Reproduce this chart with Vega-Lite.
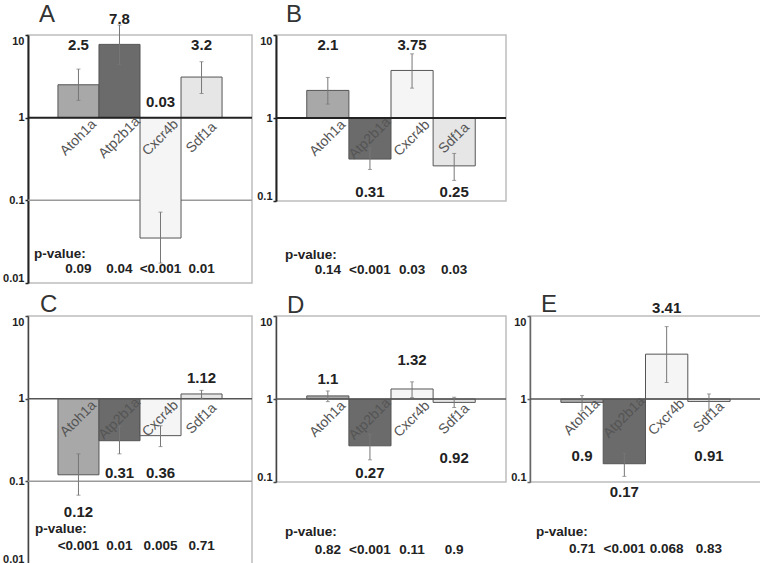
{
  "$schema": "https://vega.github.io/schema/vega-lite/v6.json",
  "padding": {"left": 1, "top": 2, "right": 0, "bottom": 0},
  "background": "white",
  "datasets": {
    "d": [
      {"panel": "A", "gene": "Atoh1a", "fc": 2.5, "lo": 1.62, "hi": 3.87, "label": "2.5", "la": 7.6, "p": "0.09"},
      {"panel": "A", "gene": "Atp2b1a", "fc": 7.7, "lo": 4.37, "hi": 13.2, "label": "7.8", "la": 15.7, "p": "0.04"},
      {"panel": "A", "gene": "Cxcr4b", "fc": 0.035, "lo": 0.0174, "hi": 0.072, "label": "0.03", "la": 1.54, "p": "<0.001"},
      {"panel": "A", "gene": "Sdf1a", "fc": 3.1, "lo": 1.96, "hi": 4.75, "label": "3.2", "la": 7.6, "p": "0.01"},
      {"panel": "B", "gene": "Atoh1a", "fc": 2.15, "lo": 1.47, "hi": 3.08, "label": "2.1", "la": 7.6, "p": "0.14"},
      {"panel": "B", "gene": "Atp2b1a", "fc": 0.32, "lo": 0.24, "hi": 0.436, "label": "0.31", "la": 0.128, "p": "<0.001"},
      {"panel": "B", "gene": "Cxcr4b", "fc": 3.74, "lo": 2.29, "hi": 5.93, "label": "3.75", "la": 7.6, "p": "0.03"},
      {"panel": "B", "gene": "Sdf1a", "fc": 0.265, "lo": 0.177, "hi": 0.374, "label": "0.25", "la": 0.128, "p": "0.03"},
      {"panel": "C", "gene": "Atoh1a", "fc": 0.12, "lo": 0.068, "hi": 0.215, "label": "0.12", "la": 0.042, "p": "<0.001"},
      {"panel": "C", "gene": "Atp2b1a", "fc": 0.31, "lo": 0.215, "hi": 0.46, "label": "0.31", "la": 0.125, "p": "0.01"},
      {"panel": "C", "gene": "Cxcr4b", "fc": 0.357, "lo": 0.263, "hi": 0.47, "label": "0.36", "la": 0.125, "p": "0.005"},
      {"panel": "C", "gene": "Sdf1a", "fc": 1.14, "lo": 1.01, "hi": 1.26, "label": "1.12", "la": 1.77, "p": "0.71"},
      {"panel": "D", "gene": "Atoh1a", "fc": 1.09, "lo": 0.93, "hi": 1.25, "label": "1.1", "la": 1.75, "p": "0.82"},
      {"panel": "D", "gene": "Atp2b1a", "fc": 0.273, "lo": 0.185, "hi": 0.376, "label": "0.27", "la": 0.127, "p": "<0.001"},
      {"panel": "D", "gene": "Cxcr4b", "fc": 1.32, "lo": 1.04, "hi": 1.61, "label": "1.32", "la": 2.96, "p": "0.11"},
      {"panel": "D", "gene": "Sdf1a", "fc": 0.91, "lo": 0.79, "hi": 1.05, "label": "0.92", "la": 0.192, "p": "0.9"},
      {"panel": "E", "gene": "Atoh1a", "fc": 0.91, "lo": 0.72, "hi": 1.1, "label": "0.9", "la": 0.203, "p": "0.71"},
      {"panel": "E", "gene": "Atp2b1a", "fc": 0.166, "lo": 0.117, "hi": 0.222, "label": "0.17", "la": 0.075, "p": "<0.001"},
      {"panel": "E", "gene": "Cxcr4b", "fc": 3.47, "lo": 1.58, "hi": 7.45, "label": "3.41", "la": 12.5, "p": "0.068"},
      {"panel": "E", "gene": "Sdf1a", "fc": 0.935, "lo": 0.72, "hi": 1.15, "label": "0.91", "la": 0.203, "p": "0.83"}
    ]
  },
  "columns": 3,
  "spacing": {"row": 33, "column": 24},
  "bounds": "flush",
  "concat": [
    {
      "width": 224, "height": 248,
      "data": {"name": "d"},
      "transform": [{"filter": "datum.panel == 'A'"}],
      "layer": [
        {"transform": [{"filter": "datum.gene == 'Atoh1a'"}], "mark": {"type": "rule", "color": "#9a9a9a", "strokeWidth": 1.5}, "encoding": {"y": {"datum": 0.1, "type": "quantitative", "title": null, "scale": {"type": "log", "domain": [0.01, 10]}}}},
        {"mark": {"type": "rect", "stroke": "#555555", "strokeWidth": 1}, "encoding": {"x": {"field": "gene", "type": "nominal", "scale": {"domain": ["Atoh1a", "Atp2b1a", "Cxcr4b", "Sdf1a"], "paddingInner": 0, "paddingOuter": 0.73}, "axis": null}, "y": {"field": "fc", "type": "quantitative", "title": null, "scale": {"type": "log", "domain": [0.01, 10]}, "axis": {"values": [0.01, 0.1, 1, 10], "format": "~g", "title": null}}, "y2": {"datum": 1}, "fill": {"field": "gene", "type": "nominal", "scale": {"domain": ["Atoh1a", "Atp2b1a", "Cxcr4b", "Sdf1a"], "range": ["#a8a8a8", "#6b6b6b", "#f5f5f5", "#e6e6e6"]}, "legend": null}}},
        {"transform": [{"filter": "datum.gene == 'Atoh1a'"}], "mark": {"type": "rule", "color": "#222222", "strokeWidth": 2}, "encoding": {"y": {"datum": 1, "type": "quantitative", "title": null, "scale": {"type": "log", "domain": [0.01, 10]}}}},
        {"mark": {"type": "rule", "color": "#777777", "strokeWidth": 1}, "encoding": {"x": {"field": "gene", "type": "nominal", "scale": {"domain": ["Atoh1a", "Atp2b1a", "Cxcr4b", "Sdf1a"], "paddingInner": 0, "paddingOuter": 0.73}, "axis": null}, "y": {"field": "lo", "type": "quantitative", "title": null, "scale": {"type": "log", "domain": [0.01, 10]}}, "y2": {"field": "hi"}}},
        {"mark": {"type": "tick", "color": "#777777", "size": 4, "thickness": 1}, "encoding": {"x": {"field": "gene", "type": "nominal", "scale": {"domain": ["Atoh1a", "Atp2b1a", "Cxcr4b", "Sdf1a"], "paddingInner": 0, "paddingOuter": 0.73}, "axis": null}, "y": {"field": "hi", "type": "quantitative", "title": null, "scale": {"type": "log", "domain": [0.01, 10]}}}},
        {"mark": {"type": "tick", "color": "#777777", "size": 4, "thickness": 1}, "encoding": {"x": {"field": "gene", "type": "nominal", "scale": {"domain": ["Atoh1a", "Atp2b1a", "Cxcr4b", "Sdf1a"], "paddingInner": 0, "paddingOuter": 0.73}, "axis": null}, "y": {"field": "lo", "type": "quantitative", "title": null, "scale": {"type": "log", "domain": [0.01, 10]}}}},
        {"mark": {"type": "text", "angle": 315, "fontSize": 14, "font": "Liberation Sans", "color": "#555555", "align": "center", "baseline": "middle"}, "encoding": {"x": {"field": "gene", "type": "nominal", "scale": {"domain": ["Atoh1a", "Atp2b1a", "Cxcr4b", "Sdf1a"], "paddingInner": 0, "paddingOuter": 0.73}, "axis": null}, "y": {"datum": 0.57, "type": "quantitative", "title": null, "scale": {"type": "log", "domain": [0.01, 10]}}, "text": {"field": "gene"}}},
        {"mark": {"type": "text", "fontSize": 15, "fontWeight": "bold", "font": "Liberation Sans", "color": "#222222", "baseline": "middle"}, "encoding": {"x": {"field": "gene", "type": "nominal", "scale": {"domain": ["Atoh1a", "Atp2b1a", "Cxcr4b", "Sdf1a"], "paddingInner": 0, "paddingOuter": 0.73}, "axis": null}, "y": {"field": "la", "type": "quantitative", "title": null, "scale": {"type": "log", "domain": [0.01, 10]}}, "text": {"field": "label"}}},
        {"mark": {"type": "text", "fontSize": 13.5, "fontWeight": "bold", "font": "Liberation Sans", "color": "#222222", "baseline": "middle"}, "encoding": {"x": {"field": "gene", "type": "nominal", "scale": {"domain": ["Atoh1a", "Atp2b1a", "Cxcr4b", "Sdf1a"], "paddingInner": 0, "paddingOuter": 0.73}, "axis": null}, "y": {"datum": 0.0146, "type": "quantitative", "title": null, "scale": {"type": "log", "domain": [0.01, 10]}}, "text": {"field": "p"}}},
        {"transform": [{"filter": "datum.gene == 'Atoh1a'"}], "mark": {"type": "text", "text": "p-value:", "align": "left", "dx": -44.5, "fontSize": 13.5, "fontWeight": "bold", "font": "Liberation Sans", "color": "#222222", "baseline": "middle"}, "encoding": {"x": {"field": "gene", "type": "nominal", "scale": {"domain": ["Atoh1a", "Atp2b1a", "Cxcr4b", "Sdf1a"], "paddingInner": 0, "paddingOuter": 0.73}, "axis": null}, "y": {"datum": 0.0225, "type": "quantitative", "title": null, "scale": {"type": "log", "domain": [0.01, 10]}}}},
        {"transform": [{"filter": "datum.gene == 'Atoh1a'"}], "mark": {"type": "text", "text": "A", "align": "left", "dx": -39.5, "fontSize": 24, "font": "Liberation Sans", "color": "#333333", "baseline": "alphabetic"}, "encoding": {"x": {"field": "gene", "type": "nominal", "scale": {"domain": ["Atoh1a", "Atp2b1a", "Cxcr4b", "Sdf1a"], "paddingInner": 0, "paddingOuter": 0.73}, "axis": null}, "y": {"datum": 14.2, "type": "quantitative", "title": null, "scale": {"type": "log", "domain": [0.01, 10]}}}}
      ]
    },
    {
      "width": 230, "height": 166,
      "data": {"name": "d"},
      "transform": [{"filter": "datum.panel == 'B'"}],
      "layer": [
        {"mark": {"type": "rect", "stroke": "#555555", "strokeWidth": 1}, "encoding": {"x": {"field": "gene", "type": "nominal", "scale": {"domain": ["Atoh1a", "Atp2b1a", "Cxcr4b", "Sdf1a"], "paddingInner": 0, "paddingOuter": 0.73}, "axis": null}, "y": {"field": "fc", "type": "quantitative", "title": null, "scale": {"type": "log", "domain": [0.1, 10]}, "axis": {"values": [0.1, 1, 10], "format": "~g", "title": null}}, "y2": {"datum": 1}, "fill": {"field": "gene", "type": "nominal", "scale": {"domain": ["Atoh1a", "Atp2b1a", "Cxcr4b", "Sdf1a"], "range": ["#a8a8a8", "#6b6b6b", "#f5f5f5", "#e6e6e6"]}, "legend": null}}},
        {"transform": [{"filter": "datum.gene == 'Atoh1a'"}], "mark": {"type": "rule", "color": "#222222", "strokeWidth": 2}, "encoding": {"y": {"datum": 1, "type": "quantitative", "title": null, "scale": {"type": "log", "domain": [0.1, 10]}}}},
        {"mark": {"type": "rule", "color": "#777777", "strokeWidth": 1}, "encoding": {"x": {"field": "gene", "type": "nominal", "scale": {"domain": ["Atoh1a", "Atp2b1a", "Cxcr4b", "Sdf1a"], "paddingInner": 0, "paddingOuter": 0.73}, "axis": null}, "y": {"field": "lo", "type": "quantitative", "title": null, "scale": {"type": "log", "domain": [0.1, 10]}}, "y2": {"field": "hi"}}},
        {"mark": {"type": "tick", "color": "#777777", "size": 4, "thickness": 1}, "encoding": {"x": {"field": "gene", "type": "nominal", "scale": {"domain": ["Atoh1a", "Atp2b1a", "Cxcr4b", "Sdf1a"], "paddingInner": 0, "paddingOuter": 0.73}, "axis": null}, "y": {"field": "hi", "type": "quantitative", "title": null, "scale": {"type": "log", "domain": [0.1, 10]}}}},
        {"mark": {"type": "tick", "color": "#777777", "size": 4, "thickness": 1}, "encoding": {"x": {"field": "gene", "type": "nominal", "scale": {"domain": ["Atoh1a", "Atp2b1a", "Cxcr4b", "Sdf1a"], "paddingInner": 0, "paddingOuter": 0.73}, "axis": null}, "y": {"field": "lo", "type": "quantitative", "title": null, "scale": {"type": "log", "domain": [0.1, 10]}}}},
        {"mark": {"type": "text", "angle": 315, "fontSize": 14, "font": "Liberation Sans", "color": "#555555", "align": "center", "baseline": "middle"}, "encoding": {"x": {"field": "gene", "type": "nominal", "scale": {"domain": ["Atoh1a", "Atp2b1a", "Cxcr4b", "Sdf1a"], "paddingInner": 0, "paddingOuter": 0.73}, "axis": null}, "y": {"datum": 0.57, "type": "quantitative", "title": null, "scale": {"type": "log", "domain": [0.1, 10]}}, "text": {"field": "gene"}}},
        {"mark": {"type": "text", "fontSize": 15, "fontWeight": "bold", "font": "Liberation Sans", "color": "#222222", "baseline": "middle"}, "encoding": {"x": {"field": "gene", "type": "nominal", "scale": {"domain": ["Atoh1a", "Atp2b1a", "Cxcr4b", "Sdf1a"], "paddingInner": 0, "paddingOuter": 0.73}, "axis": null}, "y": {"field": "la", "type": "quantitative", "title": null, "scale": {"type": "log", "domain": [0.1, 10]}}, "text": {"field": "label"}}},
        {"mark": {"type": "text", "fontSize": 13.5, "fontWeight": "bold", "font": "Liberation Sans", "color": "#222222", "baseline": "middle"}, "encoding": {"x": {"field": "gene", "type": "nominal", "scale": {"domain": ["Atoh1a", "Atp2b1a", "Cxcr4b", "Sdf1a"], "paddingInner": 0, "paddingOuter": 0.73}, "axis": null}, "y": {"datum": 0.0146, "type": "quantitative", "title": null, "scale": {"type": "log", "domain": [0.1, 10]}}, "text": {"field": "p"}}},
        {"transform": [{"filter": "datum.gene == 'Atoh1a'"}], "mark": {"type": "text", "text": "p-value:", "align": "left", "dx": -42.8, "fontSize": 13.5, "fontWeight": "bold", "font": "Liberation Sans", "color": "#222222", "baseline": "middle"}, "encoding": {"x": {"field": "gene", "type": "nominal", "scale": {"domain": ["Atoh1a", "Atp2b1a", "Cxcr4b", "Sdf1a"], "paddingInner": 0, "paddingOuter": 0.73}, "axis": null}, "y": {"datum": 0.0225, "type": "quantitative", "title": null, "scale": {"type": "log", "domain": [0.1, 10]}}}},
        {"transform": [{"filter": "datum.gene == 'Atoh1a'"}], "mark": {"type": "text", "text": "B", "align": "left", "dx": -41.8, "fontSize": 24, "font": "Liberation Sans", "color": "#333333", "baseline": "alphabetic"}, "encoding": {"x": {"field": "gene", "type": "nominal", "scale": {"domain": ["Atoh1a", "Atp2b1a", "Cxcr4b", "Sdf1a"], "paddingInner": 0, "paddingOuter": 0.73}, "axis": null}, "y": {"datum": 14.2, "type": "quantitative", "title": null, "scale": {"type": "log", "domain": [0.1, 10]}}}}
      ]
    },
    {
      "width": 231, "height": 100,
      "data": {"values": [{"z": 1}]},
      "view": {"stroke": null},
      "mark": {"type": "text", "text": ""}
    },
    {
      "width": 224, "height": 248,
      "data": {"name": "d"},
      "transform": [{"filter": "datum.panel == 'C'"}],
      "layer": [
        {"transform": [{"filter": "datum.gene == 'Atoh1a'"}], "mark": {"type": "rule", "color": "#9a9a9a", "strokeWidth": 1.5}, "encoding": {"y": {"datum": 0.1, "type": "quantitative", "title": null, "scale": {"type": "log", "domain": [0.01, 10]}}}},
        {"mark": {"type": "rect", "stroke": "#555555", "strokeWidth": 1}, "encoding": {"x": {"field": "gene", "type": "nominal", "scale": {"domain": ["Atoh1a", "Atp2b1a", "Cxcr4b", "Sdf1a"], "paddingInner": 0, "paddingOuter": 0.73}, "axis": null}, "y": {"field": "fc", "type": "quantitative", "title": null, "scale": {"type": "log", "domain": [0.01, 10]}, "axis": {"values": [0.01, 0.1, 1, 10], "format": "~g", "title": null, "domainColor": "#444444", "domainWidth": 1.5, "tickColor": "#444444"}}, "y2": {"datum": 1}, "fill": {"field": "gene", "type": "nominal", "scale": {"domain": ["Atoh1a", "Atp2b1a", "Cxcr4b", "Sdf1a"], "range": ["#a8a8a8", "#6b6b6b", "#f5f5f5", "#e6e6e6"]}, "legend": null}}},
        {"transform": [{"filter": "datum.gene == 'Atoh1a'"}], "mark": {"type": "rule", "color": "#555555", "strokeWidth": 1.5}, "encoding": {"y": {"datum": 1, "type": "quantitative", "title": null, "scale": {"type": "log", "domain": [0.01, 10]}}}},
        {"mark": {"type": "rule", "color": "#777777", "strokeWidth": 1}, "encoding": {"x": {"field": "gene", "type": "nominal", "scale": {"domain": ["Atoh1a", "Atp2b1a", "Cxcr4b", "Sdf1a"], "paddingInner": 0, "paddingOuter": 0.73}, "axis": null}, "y": {"field": "lo", "type": "quantitative", "title": null, "scale": {"type": "log", "domain": [0.01, 10]}}, "y2": {"field": "hi"}}},
        {"mark": {"type": "tick", "color": "#777777", "size": 4, "thickness": 1}, "encoding": {"x": {"field": "gene", "type": "nominal", "scale": {"domain": ["Atoh1a", "Atp2b1a", "Cxcr4b", "Sdf1a"], "paddingInner": 0, "paddingOuter": 0.73}, "axis": null}, "y": {"field": "hi", "type": "quantitative", "title": null, "scale": {"type": "log", "domain": [0.01, 10]}}}},
        {"mark": {"type": "tick", "color": "#777777", "size": 4, "thickness": 1}, "encoding": {"x": {"field": "gene", "type": "nominal", "scale": {"domain": ["Atoh1a", "Atp2b1a", "Cxcr4b", "Sdf1a"], "paddingInner": 0, "paddingOuter": 0.73}, "axis": null}, "y": {"field": "lo", "type": "quantitative", "title": null, "scale": {"type": "log", "domain": [0.01, 10]}}}},
        {"mark": {"type": "text", "angle": 315, "fontSize": 14, "font": "Liberation Sans", "color": "#555555", "align": "center", "baseline": "middle"}, "encoding": {"x": {"field": "gene", "type": "nominal", "scale": {"domain": ["Atoh1a", "Atp2b1a", "Cxcr4b", "Sdf1a"], "paddingInner": 0, "paddingOuter": 0.73}, "axis": null}, "y": {"datum": 0.57, "type": "quantitative", "title": null, "scale": {"type": "log", "domain": [0.01, 10]}}, "text": {"field": "gene"}}},
        {"mark": {"type": "text", "fontSize": 15, "fontWeight": "bold", "font": "Liberation Sans", "color": "#222222", "baseline": "middle"}, "encoding": {"x": {"field": "gene", "type": "nominal", "scale": {"domain": ["Atoh1a", "Atp2b1a", "Cxcr4b", "Sdf1a"], "paddingInner": 0, "paddingOuter": 0.73}, "axis": null}, "y": {"field": "la", "type": "quantitative", "title": null, "scale": {"type": "log", "domain": [0.01, 10]}}, "text": {"field": "label"}}},
        {"mark": {"type": "text", "fontSize": 13.5, "fontWeight": "bold", "font": "Liberation Sans", "color": "#222222", "baseline": "middle"}, "encoding": {"x": {"field": "gene", "type": "nominal", "scale": {"domain": ["Atoh1a", "Atp2b1a", "Cxcr4b", "Sdf1a"], "paddingInner": 0, "paddingOuter": 0.73}, "axis": null}, "y": {"datum": 0.0166, "type": "quantitative", "title": null, "scale": {"type": "log", "domain": [0.01, 10]}}, "text": {"field": "p"}}},
        {"transform": [{"filter": "datum.gene == 'Atoh1a'"}], "mark": {"type": "text", "text": "p-value:", "align": "left", "dx": -43.5, "fontSize": 13.5, "fontWeight": "bold", "font": "Liberation Sans", "color": "#222222", "baseline": "middle"}, "encoding": {"x": {"field": "gene", "type": "nominal", "scale": {"domain": ["Atoh1a", "Atp2b1a", "Cxcr4b", "Sdf1a"], "paddingInner": 0, "paddingOuter": 0.73}, "axis": null}, "y": {"datum": 0.0262, "type": "quantitative", "title": null, "scale": {"type": "log", "domain": [0.01, 10]}}}},
        {"transform": [{"filter": "datum.gene == 'Atoh1a'"}], "mark": {"type": "text", "text": "C", "align": "left", "dx": -38.5, "fontSize": 24, "font": "Liberation Sans", "color": "#333333", "baseline": "alphabetic"}, "encoding": {"x": {"field": "gene", "type": "nominal", "scale": {"domain": ["Atoh1a", "Atp2b1a", "Cxcr4b", "Sdf1a"], "paddingInner": 0, "paddingOuter": 0.73}, "axis": null}, "y": {"datum": 11.1, "type": "quantitative", "title": null, "scale": {"type": "log", "domain": [0.01, 10]}}}}
      ]
    },
    {
      "width": 230, "height": 166,
      "data": {"name": "d"},
      "transform": [{"filter": "datum.panel == 'D'"}],
      "layer": [
        {"mark": {"type": "rect", "stroke": "#555555", "strokeWidth": 1}, "encoding": {"x": {"field": "gene", "type": "nominal", "scale": {"domain": ["Atoh1a", "Atp2b1a", "Cxcr4b", "Sdf1a"], "paddingInner": 0, "paddingOuter": 0.73}, "axis": null}, "y": {"field": "fc", "type": "quantitative", "title": null, "scale": {"type": "log", "domain": [0.1, 10]}, "axis": {"values": [0.1, 1, 10], "format": "~g", "title": null, "domainColor": "#444444", "domainWidth": 1.5, "tickColor": "#444444"}}, "y2": {"datum": 1}, "fill": {"field": "gene", "type": "nominal", "scale": {"domain": ["Atoh1a", "Atp2b1a", "Cxcr4b", "Sdf1a"], "range": ["#a8a8a8", "#6b6b6b", "#f5f5f5", "#e6e6e6"]}, "legend": null}}},
        {"transform": [{"filter": "datum.gene == 'Atoh1a'"}], "mark": {"type": "rule", "color": "#555555", "strokeWidth": 1.5}, "encoding": {"y": {"datum": 1, "type": "quantitative", "title": null, "scale": {"type": "log", "domain": [0.1, 10]}}}},
        {"mark": {"type": "rule", "color": "#777777", "strokeWidth": 1}, "encoding": {"x": {"field": "gene", "type": "nominal", "scale": {"domain": ["Atoh1a", "Atp2b1a", "Cxcr4b", "Sdf1a"], "paddingInner": 0, "paddingOuter": 0.73}, "axis": null}, "y": {"field": "lo", "type": "quantitative", "title": null, "scale": {"type": "log", "domain": [0.1, 10]}}, "y2": {"field": "hi"}}},
        {"mark": {"type": "tick", "color": "#777777", "size": 4, "thickness": 1}, "encoding": {"x": {"field": "gene", "type": "nominal", "scale": {"domain": ["Atoh1a", "Atp2b1a", "Cxcr4b", "Sdf1a"], "paddingInner": 0, "paddingOuter": 0.73}, "axis": null}, "y": {"field": "hi", "type": "quantitative", "title": null, "scale": {"type": "log", "domain": [0.1, 10]}}}},
        {"mark": {"type": "tick", "color": "#777777", "size": 4, "thickness": 1}, "encoding": {"x": {"field": "gene", "type": "nominal", "scale": {"domain": ["Atoh1a", "Atp2b1a", "Cxcr4b", "Sdf1a"], "paddingInner": 0, "paddingOuter": 0.73}, "axis": null}, "y": {"field": "lo", "type": "quantitative", "title": null, "scale": {"type": "log", "domain": [0.1, 10]}}}},
        {"mark": {"type": "text", "angle": 315, "fontSize": 14, "font": "Liberation Sans", "color": "#555555", "align": "center", "baseline": "middle"}, "encoding": {"x": {"field": "gene", "type": "nominal", "scale": {"domain": ["Atoh1a", "Atp2b1a", "Cxcr4b", "Sdf1a"], "paddingInner": 0, "paddingOuter": 0.73}, "axis": null}, "y": {"datum": 0.57, "type": "quantitative", "title": null, "scale": {"type": "log", "domain": [0.1, 10]}}, "text": {"field": "gene"}}},
        {"mark": {"type": "text", "fontSize": 15, "fontWeight": "bold", "font": "Liberation Sans", "color": "#222222", "baseline": "middle"}, "encoding": {"x": {"field": "gene", "type": "nominal", "scale": {"domain": ["Atoh1a", "Atp2b1a", "Cxcr4b", "Sdf1a"], "paddingInner": 0, "paddingOuter": 0.73}, "axis": null}, "y": {"field": "la", "type": "quantitative", "title": null, "scale": {"type": "log", "domain": [0.1, 10]}}, "text": {"field": "label"}}},
        {"mark": {"type": "text", "fontSize": 13.5, "fontWeight": "bold", "font": "Liberation Sans", "color": "#222222", "baseline": "middle"}, "encoding": {"x": {"field": "gene", "type": "nominal", "scale": {"domain": ["Atoh1a", "Atp2b1a", "Cxcr4b", "Sdf1a"], "paddingInner": 0, "paddingOuter": 0.73}, "axis": null}, "y": {"datum": 0.0151, "type": "quantitative", "title": null, "scale": {"type": "log", "domain": [0.1, 10]}}, "text": {"field": "p"}}},
        {"transform": [{"filter": "datum.gene == 'Atoh1a'"}], "mark": {"type": "text", "text": "p-value:", "align": "left", "dx": -42.8, "fontSize": 13.5, "fontWeight": "bold", "font": "Liberation Sans", "color": "#222222", "baseline": "middle"}, "encoding": {"x": {"field": "gene", "type": "nominal", "scale": {"domain": ["Atoh1a", "Atp2b1a", "Cxcr4b", "Sdf1a"], "paddingInner": 0, "paddingOuter": 0.73}, "axis": null}, "y": {"datum": 0.0248, "type": "quantitative", "title": null, "scale": {"type": "log", "domain": [0.1, 10]}}}},
        {"transform": [{"filter": "datum.gene == 'Atoh1a'"}], "mark": {"type": "text", "text": "D", "align": "left", "dx": -40.8, "fontSize": 24, "font": "Liberation Sans", "color": "#333333", "baseline": "alphabetic"}, "encoding": {"x": {"field": "gene", "type": "nominal", "scale": {"domain": ["Atoh1a", "Atp2b1a", "Cxcr4b", "Sdf1a"], "paddingInner": 0, "paddingOuter": 0.73}, "axis": null}, "y": {"datum": 11.0, "type": "quantitative", "title": null, "scale": {"type": "log", "domain": [0.1, 10]}}}}
      ]
    },
    {
      "width": 231, "height": 166,
      "data": {"name": "d"},
      "transform": [{"filter": "datum.panel == 'E'"}],
      "layer": [
        {"mark": {"type": "rect", "stroke": "#555555", "strokeWidth": 1}, "encoding": {"x": {"field": "gene", "type": "nominal", "scale": {"domain": ["Atoh1a", "Atp2b1a", "Cxcr4b", "Sdf1a"], "paddingInner": 0, "paddingOuter": 0.73}, "axis": null}, "y": {"field": "fc", "type": "quantitative", "title": null, "scale": {"type": "log", "domain": [0.1, 10]}, "axis": {"values": [0.1, 1, 10], "format": "~g", "title": null, "domainColor": "#666666", "domainWidth": 1.5, "tickColor": "#666666"}}, "y2": {"datum": 1}, "fill": {"field": "gene", "type": "nominal", "scale": {"domain": ["Atoh1a", "Atp2b1a", "Cxcr4b", "Sdf1a"], "range": ["#a8a8a8", "#6b6b6b", "#f5f5f5", "#e6e6e6"]}, "legend": null}}},
        {"transform": [{"filter": "datum.gene == 'Atoh1a'"}], "mark": {"type": "rule", "color": "#555555", "strokeWidth": 1.5}, "encoding": {"y": {"datum": 1, "type": "quantitative", "title": null, "scale": {"type": "log", "domain": [0.1, 10]}}}},
        {"mark": {"type": "rule", "color": "#777777", "strokeWidth": 1}, "encoding": {"x": {"field": "gene", "type": "nominal", "scale": {"domain": ["Atoh1a", "Atp2b1a", "Cxcr4b", "Sdf1a"], "paddingInner": 0, "paddingOuter": 0.73}, "axis": null}, "y": {"field": "lo", "type": "quantitative", "title": null, "scale": {"type": "log", "domain": [0.1, 10]}}, "y2": {"field": "hi"}}},
        {"mark": {"type": "tick", "color": "#777777", "size": 4, "thickness": 1}, "encoding": {"x": {"field": "gene", "type": "nominal", "scale": {"domain": ["Atoh1a", "Atp2b1a", "Cxcr4b", "Sdf1a"], "paddingInner": 0, "paddingOuter": 0.73}, "axis": null}, "y": {"field": "hi", "type": "quantitative", "title": null, "scale": {"type": "log", "domain": [0.1, 10]}}}},
        {"mark": {"type": "tick", "color": "#777777", "size": 4, "thickness": 1}, "encoding": {"x": {"field": "gene", "type": "nominal", "scale": {"domain": ["Atoh1a", "Atp2b1a", "Cxcr4b", "Sdf1a"], "paddingInner": 0, "paddingOuter": 0.73}, "axis": null}, "y": {"field": "lo", "type": "quantitative", "title": null, "scale": {"type": "log", "domain": [0.1, 10]}}}},
        {"mark": {"type": "text", "angle": 315, "fontSize": 14, "font": "Liberation Sans", "color": "#555555", "align": "center", "baseline": "middle"}, "encoding": {"x": {"field": "gene", "type": "nominal", "scale": {"domain": ["Atoh1a", "Atp2b1a", "Cxcr4b", "Sdf1a"], "paddingInner": 0, "paddingOuter": 0.73}, "axis": null}, "y": {"datum": 0.6, "type": "quantitative", "title": null, "scale": {"type": "log", "domain": [0.1, 10]}}, "text": {"field": "gene"}}},
        {"mark": {"type": "text", "fontSize": 15, "fontWeight": "bold", "font": "Liberation Sans", "color": "#222222", "baseline": "middle"}, "encoding": {"x": {"field": "gene", "type": "nominal", "scale": {"domain": ["Atoh1a", "Atp2b1a", "Cxcr4b", "Sdf1a"], "paddingInner": 0, "paddingOuter": 0.73}, "axis": null}, "y": {"field": "la", "type": "quantitative", "title": null, "scale": {"type": "log", "domain": [0.1, 10]}}, "text": {"field": "label"}}},
        {"mark": {"type": "text", "fontSize": 13.5, "fontWeight": "bold", "font": "Liberation Sans", "color": "#222222", "baseline": "middle"}, "encoding": {"x": {"field": "gene", "type": "nominal", "scale": {"domain": ["Atoh1a", "Atp2b1a", "Cxcr4b", "Sdf1a"], "paddingInner": 0, "paddingOuter": 0.73}, "axis": null}, "y": {"datum": 0.0155, "type": "quantitative", "title": null, "scale": {"type": "log", "domain": [0.1, 10]}}, "text": {"field": "p"}}},
        {"transform": [{"filter": "datum.gene == 'Atoh1a'"}], "mark": {"type": "text", "text": "p-value:", "align": "left", "dx": -46, "fontSize": 13.5, "fontWeight": "bold", "font": "Liberation Sans", "color": "#222222", "baseline": "middle"}, "encoding": {"x": {"field": "gene", "type": "nominal", "scale": {"domain": ["Atoh1a", "Atp2b1a", "Cxcr4b", "Sdf1a"], "paddingInner": 0, "paddingOuter": 0.73}, "axis": null}, "y": {"datum": 0.025, "type": "quantitative", "title": null, "scale": {"type": "log", "domain": [0.1, 10]}}}},
        {"transform": [{"filter": "datum.gene == 'Atoh1a'"}], "mark": {"type": "text", "text": "E", "align": "left", "dx": -41, "fontSize": 24, "font": "Liberation Sans", "color": "#333333", "baseline": "alphabetic"}, "encoding": {"x": {"field": "gene", "type": "nominal", "scale": {"domain": ["Atoh1a", "Atp2b1a", "Cxcr4b", "Sdf1a"], "paddingInner": 0, "paddingOuter": 0.73}, "axis": null}, "y": {"datum": 11.3, "type": "quantitative", "title": null, "scale": {"type": "log", "domain": [0.1, 10]}}}}
      ]
    }
  ],
  "config": {
    "view": {"stroke": "#bdbdbd", "strokeWidth": 1.5},
    "axis": {"labelFont": "Liberation Sans", "labelFontWeight": "bold", "labelFontSize": 11, "labelColor": "#222222", "tickSize": 3, "tickWidth": 1.5, "tickColor": "#222222", "domainColor": "#222222", "domainWidth": 2, "labelPadding": 1, "labelFlush": true, "grid": false}
  }
}
